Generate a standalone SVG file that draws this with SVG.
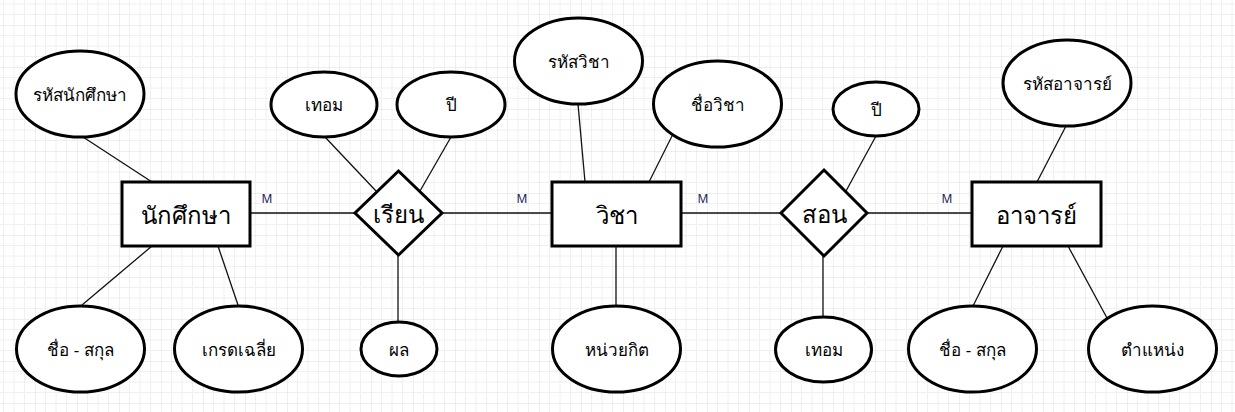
<svg xmlns="http://www.w3.org/2000/svg" width="1235" height="412" viewBox="0 0 1235 412">
  <defs>
    <pattern id="grid" x="35" y="25" width="42" height="42" patternUnits="userSpaceOnUse">
      <path d="M10.5 0V42M21 0V42M31.5 0V42M0 10.5H42M0 21H42M0 31.5H42" fill="none" stroke="#f0f0f0" stroke-width="1"/>
      <path d="M0 0V42M0 0H42" fill="none" stroke="#dedede" stroke-width="1"/>
    </pattern>
    <style>
      .ent { fill: #fff; stroke: #000; stroke-width: 3; }
      .rel { fill: #fff; stroke: #000; stroke-width: 3; stroke-linejoin: miter; }
      .att { fill: #fff; stroke: #000; stroke-width: 3; }
      .ln { stroke: #111; stroke-width: 1.3; fill: none; }
      text { font-family: "Noto Sans", "DejaVu Sans", "Liberation Sans", sans-serif; fill: #000; text-anchor: middle; dominant-baseline: central; }
      .big { font-size: 24px; }
      .sm { font-size: 17px; }
      .card { font-size: 12px; fill: #1c1c55; }
    </style>
  </defs>

  <rect width="1235" height="412" fill="#fff"/>
  <rect width="1235" height="412" fill="url(#grid)"/>

  <!-- connectors -->
  <g id="connectors">
    <line class="ln" x1="83" y1="137" x2="152" y2="182"/>
    <line class="ln" x1="152" y1="246" x2="82" y2="305"/>
    <line class="ln" x1="218" y1="246" x2="238" y2="305"/>
    <line class="ln" x1="250" y1="213" x2="355" y2="213"/>
    <line class="ln" x1="325" y1="137" x2="376" y2="191"/>
    <line class="ln" x1="451" y1="137" x2="420" y2="191"/>
    <line class="ln" x1="398" y1="255" x2="398" y2="322"/>
    <line class="ln" x1="442" y1="213" x2="552" y2="213"/>
    <line class="ln" x1="578" y1="104" x2="585" y2="182"/>
    <line class="ln" x1="672" y1="136" x2="649" y2="182"/>
    <line class="ln" x1="616" y1="246" x2="616" y2="306"/>
    <line class="ln" x1="681" y1="213" x2="781" y2="213"/>
    <line class="ln" x1="876" y1="136" x2="846" y2="191"/>
    <line class="ln" x1="823" y1="256" x2="823" y2="317"/>
    <line class="ln" x1="867" y1="213" x2="972" y2="213"/>
    <line class="ln" x1="1066" y1="126" x2="1037" y2="182"/>
    <line class="ln" x1="1003" y1="246" x2="973" y2="306"/>
    <line class="ln" x1="1068" y1="246" x2="1107" y2="318"/>
    <text class="card" x="267" y="198">M</text>
    <text class="card" x="522" y="198">M</text>
    <text class="card" x="703" y="198">M</text>
    <text class="card" x="947" y="198">M</text>
  </g>

  <!-- student entity and attributes -->
  <g id="student">
    <rect class="ent" x="122" y="182" width="128" height="64"/>
    <text class="big" x="186" y="214">นักศึกษา</text>
  </g>
  <g id="student-id">
    <ellipse class="att" cx="80" cy="94" rx="64" ry="43"/>
    <text class="sm" x="80" y="94">รหัสนักศึกษา</text>
  </g>
  <g id="student-name">
    <ellipse class="att" cx="80.5" cy="349" rx="64" ry="43"/>
    <text class="sm" x="80.5" y="349">ชื่อ - สกุล</text>
  </g>
  <g id="student-gpa">
    <ellipse class="att" cx="238.5" cy="349" rx="64" ry="43"/>
    <text class="sm" x="238.5" y="349">เกรดเฉลี่ย</text>
  </g>

  <!-- enrol relationship -->
  <g id="enrol">
    <polygon class="rel" points="398.5,171 442,213 398.5,255 355,213"/>
    <text class="big" x="398.5" y="213">เรียน</text>
  </g>
  <g id="enrol-term">
    <ellipse class="att" cx="324" cy="104.5" rx="53" ry="32.5"/>
    <text class="sm" x="324" y="104.5">เทอม</text>
  </g>
  <g id="enrol-year">
    <ellipse class="att" cx="451" cy="104.5" rx="54" ry="32.5"/>
    <text class="sm" x="451" y="104.5">ปี</text>
  </g>
  <g id="enrol-result">
    <ellipse class="att" cx="399" cy="349" rx="38" ry="27"/>
    <text class="sm" x="399" y="349">ผล</text>
  </g>

  <!-- subject entity and attributes -->
  <g id="subject">
    <rect class="ent" x="552" y="182" width="129" height="64"/>
    <text class="big" x="616.5" y="214">วิชา</text>
  </g>
  <g id="subject-id">
    <ellipse class="att" cx="578.5" cy="61" rx="64" ry="43"/>
    <text class="sm" x="578.5" y="61">รหัสวิชา</text>
  </g>
  <g id="subject-name">
    <ellipse class="att" cx="717.5" cy="104" rx="64" ry="43"/>
    <text class="sm" x="717.5" y="104">ชื่อวิชา</text>
  </g>
  <g id="subject-credit">
    <ellipse class="att" cx="616.5" cy="349" rx="64" ry="43"/>
    <text class="sm" x="616.5" y="349">หน่วยกิต</text>
  </g>

  <!-- teach relationship -->
  <g id="teach">
    <polygon class="rel" points="824,170 867,213 824,256 781,213"/>
    <text class="big" x="824" y="213">สอน</text>
  </g>
  <g id="teach-year">
    <ellipse class="att" cx="876" cy="109" rx="43" ry="27"/>
    <text class="sm" x="876" y="109">ปี</text>
  </g>
  <g id="teach-term">
    <ellipse class="att" cx="823.5" cy="349.5" rx="48" ry="32.5"/>
    <text class="sm" x="823.5" y="349.5">เทอม</text>
  </g>

  <!-- lecturer entity and attributes -->
  <g id="lecturer">
    <rect class="ent" x="972" y="182" width="129" height="64"/>
    <text class="big" x="1036.5" y="214">อาจารย์</text>
  </g>
  <g id="lecturer-id">
    <ellipse class="att" cx="1067" cy="83" rx="64" ry="43"/>
    <text class="sm" x="1067" y="83">รหัสอาจารย์</text>
  </g>
  <g id="lecturer-name">
    <ellipse class="att" cx="972.5" cy="349" rx="64" ry="43"/>
    <text class="sm" x="972.5" y="349">ชื่อ - สกุล</text>
  </g>
  <g id="lecturer-position">
    <ellipse class="att" cx="1152.5" cy="349" rx="64" ry="43"/>
    <text class="sm" x="1152.5" y="349">ตำแหน่ง</text>
  </g>
</svg>
